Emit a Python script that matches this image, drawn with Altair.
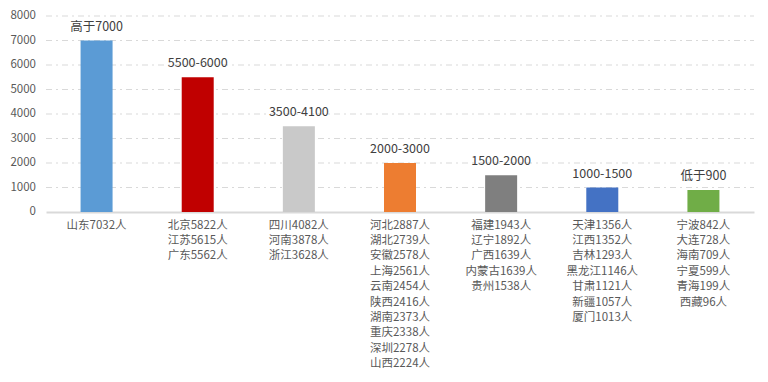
import altair as alt
import pandas as pd

ranges = ["高于7000", "5500-6000", "3500-4100", "2000-3000", "1500-2000", "1000-1500", "低于900"]
values = [7000, 5500, 3500, 2000, 1500, 1000, 900]
members = [
    ["山东7032人"],
    ["北京5822人", "江苏5615人", "广东5562人"],
    ["四川4082人", "河南3878人", "浙江3628人"],
    ["河北2887人", "湖北2739人", "安徽2578人", "上海2561人", "云南2454人",
     "陕西2416人", "湖南2373人", "重庆2338人", "深圳2278人", "山西2224人"],
    ["福建1943人", "辽宁1892人", "广西1639人", "内蒙古1639人", "贵州1538人"],
    ["天津1356人", "江西1352人", "吉林1293人", "黑龙江1146人", "甘肃1121人",
     "新疆1057人", "厦门1013人"],
    ["宁波842人", "大连728人", "海南709人", "宁夏599人", "青海199人", "西藏96人"],
]
y_ticks = [0, 1000, 2000, 3000, 4000, 5000, 6000, 7000, 8000]
colors = ["#5B9BD5", "#C00000", "#C9C9C9", "#ED7D31", "#7F7F7F", "#4472C4", "#70AD47"]

cats = ["|".join(m) for m in members]
df = pd.DataFrame({"cat": cats, "value": values, "range": ranges})
ticks_df = pd.DataFrame({"value": y_ticks, "lab": [str(v) for v in y_ticks]})

FONT = "Noto Sans CJK SC"
W, H = 708, 196

x = alt.X("cat:N", sort=cats, title=None,
          scale=alt.Scale(paddingInner=0.68, paddingOuter=0.34),
          axis=alt.Axis(labelExpr="split(datum.label, '|')", labelAngle=0,
                        labelBaseline="top", labelLineHeight=15.4, labelPadding=7,
                        labelFontSize=11.5, labelColor="#595959", labelFont=FONT,
                        ticks=False, domainColor="#D9D9D9", domainWidth=2,
                        labelLimit=0, grid=False))

yscale = alt.Scale(domain=[0, 8000], nice=False)

grid = alt.Chart(ticks_df).transform_filter("datum.value > 0").mark_rule(
    color="#D9D9D9", strokeWidth=1, strokeDash=[6, 4, 2, 4]).encode(
    y=alt.Y("value:Q", scale=yscale, axis=None, title=None),
    x=alt.value(0), x2=alt.value(W))

ylabels = alt.Chart(ticks_df).mark_text(
    align="right", baseline="middle", fontSize=11.5, color="#595959", font=FONT).encode(
    y=alt.Y("value:Q", scale=yscale, axis=None, title=None),
    x=alt.value(-10), text="lab:N")

base = alt.Chart(df).encode(
    x=x, y=alt.Y("value:Q", scale=yscale, axis=None, title=None))

bars = base.mark_bar(size=32).encode(
    color=alt.Color("cat:N", scale=alt.Scale(domain=cats, range=colors), legend=None),
)

labels = base.mark_text(baseline="bottom", dy=-7, fontSize=12.5, color="#404040",
                        font=FONT).encode(text="range:N")

chart = (grid + ylabels + bars + labels).properties(
    width=W, height=H,
    padding={"left": 2, "top": 2, "right": 5, "bottom": 5},
).configure_view(stroke=None)

chart.save("out.html", embed_options={"renderer": "svg", "actions": False})
